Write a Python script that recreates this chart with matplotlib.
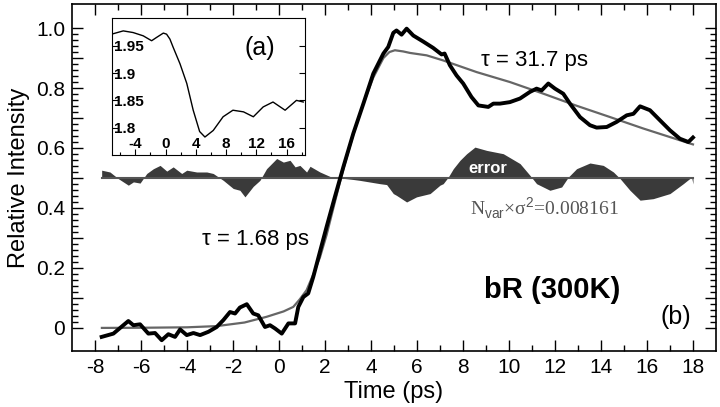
import numpy as np
import matplotlib
matplotlib.use('Agg')
import matplotlib.pyplot as plt
from matplotlib.ticker import FixedLocator, MultipleLocator

plt.rcParams['font.family'] = ['Liberation Sans', 'DejaVu Sans']
plt.rcParams['mathtext.fontset'] = 'custom'
plt.rcParams['mathtext.rm'] = 'Liberation Sans'
plt.rcParams['axes.unicode_minus'] = False

# measured signal (b), time in ps
t_data = [-7.71, -7.2, -6.55, -6.33, -6.04, -5.68, -5.39, -5.1, -4.81, -4.52,
          -4.3, -4.01, -3.72, -3.43, -3.07, -2.71, -2.42, -2.13, -1.91, -1.7,
          -1.4, -1.12, -0.9, -0.61, -0.39, -0.17, 0.12, 0.41, 0.7, 0.84,
          1.06, 1.27, 1.49, 1.75, 2.07, 2.43, 2.8, 3.23, 3.67, 4.1,
          4.54, 4.75, 4.97, 5.11, 5.33, 5.55, 5.84, 6.27, 6.7, 7.07,
          7.2, 7.43, 7.72, 8.01, 8.37, 8.67, 9.1, 9.32, 9.61, 10.04,
          10.48, 10.91, 11.2, 11.42, 11.71, 12.0, 12.36, 12.65, 13.09, 13.52,
          13.81, 14.25, 14.68, 15.12, 15.41, 15.7, 16.13, 16.57, 17.0, 17.43,
          17.8, 18.0]
v_data = [-0.03, -0.019, 0.023, 0.009, 0.012, -0.019, -0.017, -0.041, -0.021, -0.03,
          -0.005, -0.024, -0.017, -0.024, -0.013, 0.003, 0.026, 0.053, 0.048, 0.068,
          0.079, 0.048, 0.042, 0.003, 0.009, -0.002, -0.019, 0.015, 0.015, 0.07,
          0.103, 0.115, 0.17, 0.245, 0.337, 0.437, 0.537, 0.648, 0.748, 0.848,
          0.915, 0.937, 0.984, 0.992, 0.978, 0.998, 0.975, 0.955, 0.934, 0.912,
          0.915, 0.876, 0.842, 0.815, 0.77, 0.742, 0.737, 0.748, 0.748, 0.753,
          0.765, 0.787, 0.798, 0.792, 0.815, 0.798, 0.781, 0.748, 0.703, 0.676,
          0.668, 0.67, 0.687, 0.709, 0.714, 0.739, 0.726, 0.692, 0.659, 0.631,
          0.62, 0.635]

# fit curve
t_fit = [-7.7, -6.0, -4.0, -2.71, -1.5, -0.54, 0.2, 0.62, 0.9, 1.2,
         1.5, 1.78, 2.07, 2.43, 2.8, 3.23, 3.67, 4.1, 4.54, 4.8,
         5.04, 5.4, 5.7, 6.42, 7.14, 8.6, 10.04, 11.5, 12.9, 14.4,
         15.84, 17.87, 18.0]
v_fit = [0.0, 0.0005, 0.002, 0.006, 0.018, 0.037, 0.055, 0.07, 0.095, 0.126,
         0.18, 0.235, 0.31, 0.42, 0.53, 0.645, 0.748, 0.835, 0.9, 0.92,
         0.926, 0.922, 0.917, 0.909, 0.892, 0.853, 0.82, 0.781, 0.742, 0.703,
         0.665, 0.615, 0.612]

# residual (offset by 0.5)
t_err = [-7.71, -7.35, -6.99, -6.55, -6.33, -6.04, -5.75, -5.46, -5.17, -4.88,
         -4.6, -4.23, -4.01, -3.58, -3.14, -2.86, -2.42, -1.99, -1.7, -1.48,
         -1.12, -0.83, -0.54, -0.1, 0.19, 0.48, 0.7, 0.91, 1.2, 1.35,
         1.78, 2.22, 2.65, 3.23, 3.52, 4.39, 4.68, 4.97, 5.11, 5.55,
         5.98, 6.57, 7.0, 7.14, 7.36, 7.58, 7.87, 8.16, 8.52, 9.03,
         9.75, 10.48, 10.91, 11.2, 11.78, 12.29, 12.58, 12.94, 13.52, 14.1,
         14.54, 14.83, 15.26, 15.7, 16.27, 17.0, 17.58, 17.94, 18.0]
v_err = [0.526, 0.52, 0.498, 0.476, 0.487, 0.483, 0.515, 0.531, 0.542, 0.523,
         0.537, 0.515, 0.526, 0.52, 0.52, 0.515, 0.492, 0.465, 0.459, 0.437,
         0.472, 0.492, 0.531, 0.565, 0.553, 0.559, 0.537, 0.542, 0.52, 0.539,
         0.52, 0.505, 0.5, 0.495, 0.492, 0.481, 0.478, 0.448, 0.442, 0.42,
         0.437, 0.448, 0.476, 0.481, 0.503, 0.531, 0.559, 0.581, 0.603, 0.592,
         0.581, 0.548, 0.509, 0.481, 0.459, 0.47, 0.503, 0.531, 0.55, 0.542,
         0.52, 0.498, 0.459, 0.426, 0.431, 0.448, 0.481, 0.503, 0.48]

# inset (a)
t_ins = [-7.14, -5.6, -4.3, -2.96, -1.85, -1.2, -0.3, 0.13, 0.57, 1.0,
         1.9, 2.8, 3.65, 4.5, 5.2, 6.3, 7.6, 8.9, 10.3, 11.6,
         12.9, 14.2, 15.8, 17.3, 18.2]
v_ins = [1.971, 1.977, 1.974, 1.968, 1.959, 1.965, 1.973, 1.971, 1.962, 1.947,
         1.917, 1.881, 1.832, 1.793, 1.783, 1.795, 1.82, 1.832, 1.829, 1.82,
         1.838, 1.847, 1.832, 1.85, 1.847]

fig = plt.figure(figsize=(7.2, 4.07), dpi=100)
ax = fig.add_axes([0.1, 0.1376, 0.8944, 0.8524])

base = 0.5
ax.fill_between(t_err, base, v_err, color='#3a3a3a', lw=0)
ax.plot([t_err[0], t_err[-1]], [base, base], color='#555555', lw=1.5)
ax.plot(t_fit, v_fit, color='#666666', lw=1.6, zorder=3)
ax.plot(t_data, v_data, color='black', lw=2.8, zorder=4)

ax.set_xlim(-9, 19)
ax.set_ylim(-0.077, 1.08)
ax.xaxis.set_major_locator(FixedLocator(np.arange(-8, 19, 2)))
ax.xaxis.set_minor_locator(FixedLocator(np.arange(-7, 18, 2)))
yt = np.round(np.arange(0, 1.01, 0.1), 2)
ax.yaxis.set_major_locator(FixedLocator(yt))
ax.set_yticklabels(['0' if v == 0 else ('%.1f' % v if i % 2 == 0 else '') for i, v in enumerate(yt)])
ax.yaxis.set_minor_locator(FixedLocator(np.round(np.arange(0, 1.001, 0.02), 2)))
ax.tick_params(which='both', direction='in', top=True, right=True, labelsize=15, width=1)
ax.tick_params(which='major', length=8)
ax.tick_params(which='minor', length=4.5)
ax.tick_params(axis='x', pad=5)
ax.tick_params(axis='y', pad=5)
for s in ax.spines.values():
    s.set_linewidth(1.2)
ax.set_xlabel('Time (ps)', fontsize=17, labelpad=3)
ax.set_ylabel('Relative Intensity', fontsize=17, labelpad=4)

ax.text(11.13, 0.892, u'\u03c4 = 31.7 ps', fontsize=16, ha='center', va='center')
ax.text(-1.04, 0.296, u'\u03c4 = 1.68 ps', fontsize=16, ha='center', va='center')
ax.text(9.07, 0.532, 'error', fontsize=12, color='white', fontweight='bold',
        ha='center', va='center', zorder=5)
ax.text(11.52, 0.399, u'N$_{\\mathrm{var}}$\u00d7\u03c3$^{2}$=0.008161', fontsize=14,
        color='#555555', family=['Liberation Serif', 'DejaVu Serif'], ha='center', va='center')
ax.text(11.9, 0.126, 'bR (300K)', fontsize=21, fontweight='bold', ha='center', va='center')
ax.text(17.24, 0.036, '(b)', fontsize=18, ha='center', va='center')

ins = fig.add_axes([0.155, 0.619, 0.2686, 0.336])
ins.plot(t_ins, v_ins, color='black', lw=1)
ins.set_xlim(-7.14, 18.43)
ins.set_ylim(1.75, 2.0)
ins.xaxis.set_major_locator(FixedLocator([-4, 0, 4, 8, 12, 16]))
ins.xaxis.set_minor_locator(MultipleLocator(2))
ins.yaxis.set_major_locator(FixedLocator([1.8, 1.85, 1.9, 1.95]))
ins.set_yticklabels(['1.8', '1.85', '1.9', '1.95'])
ins.tick_params(which='both', direction='in', top=False, right=True, width=0.8)
ins.tick_params(which='major', length=4)
ins.tick_params(which='minor', length=2.5)
ins.tick_params(axis='x', pad=-13)
ins.tick_params(axis='y', pad=-2)
for lab in ins.get_xticklabels() + ins.get_yticklabels():
    lab.set_fontsize(11)
    lab.set_fontweight('bold')
for lab in ins.get_yticklabels():
    lab.set_horizontalalignment('left')
for s in ins.spines.values():
    s.set_linewidth(0.8)
ins.text(12.4, 1.946, '(a)', fontsize=18, ha='center', va='center')

fig.savefig('out.png', dpi=100)
